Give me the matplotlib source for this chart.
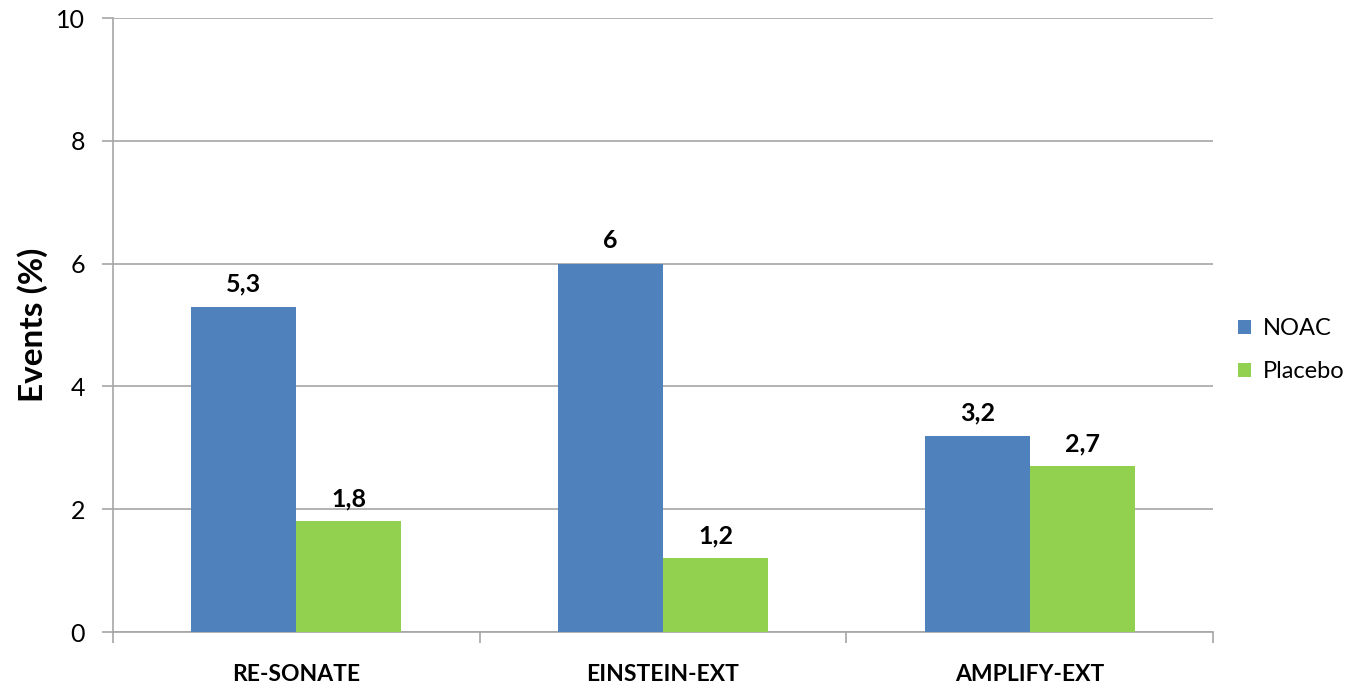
import matplotlib
matplotlib.use("Agg")
import matplotlib.pyplot as plt
import numpy as np

categories = ["RE-SONATE", "EINSTEIN-EXT", "AMPLIFY-EXT"]
noac = [5.3, 6.0, 3.2]
placebo = [1.8, 1.2, 2.7]
noac_labels = ["5,3", "6", "3,2"]
placebo_labels = ["1,8", "1,2", "2,7"]
yticks = [0, 2, 4, 6, 8, 10]

plt.rcParams["font.family"] = ["Lato", "DejaVu Sans"]

fig = plt.figure(figsize=(13.56, 6.88), dpi=100)
ax = fig.add_axes([113 / 1356, 56 / 688, 1100 / 1356, 614 / 688])

x = np.arange(len(categories))
w = 0.286
grid_c = "#A6A6A6"

b1 = ax.bar(x - w / 2, noac, width=w, color="#4F81BD", label="NOAC", zorder=3)
b2 = ax.bar(x + w / 2, placebo, width=w, color="#92D050", label="Placebo", zorder=3)

for bars, labs in ((b1, noac_labels), (b2, placebo_labels)):
    for rect, lab in zip(bars, labs):
        ax.annotate(lab, (rect.get_x() + rect.get_width() / 2, rect.get_height()),
                    xytext=(0, 8), textcoords="offset points",
                    ha="center", va="bottom", fontsize=18, fontweight="bold",
                    color="black")

ax.set_xlim(-0.5, len(categories) - 0.5)
ax.set_ylim(0, 10)
ax.set_yticks(yticks)
ax.set_yticklabels([str(t) for t in yticks], fontsize=18)
ax.yaxis.grid(True, color=grid_c, linewidth=1.2, zorder=0)
ax.set_axisbelow(True)

# category labels centred, tick marks on the group boundaries
ax.set_xticks(x)
ax.set_xticklabels(categories, fontsize=16.5, fontweight="bold")
ax.tick_params(axis="x", length=0, pad=23)
ax.set_xticks(np.arange(len(categories) + 1) - 0.5, minor=True)
ax.tick_params(axis="x", which="minor", length=8, color=grid_c, width=1.2)
ax.tick_params(axis="y", length=8, color=grid_c, width=1.2, pad=12)

for s in ("top", "right"):
    ax.spines[s].set_visible(False)
for s in ("left", "bottom"):
    ax.spines[s].set_color(grid_c)
    ax.spines[s].set_linewidth(1.2)

ax.set_ylabel("Events (%)", fontsize=24, fontweight="bold", labelpad=6)

fig.legend(handles=[b1, b2], labels=["NOAC", "Placebo"],
           loc="center left", bbox_to_anchor=(1238 / 1356, 0.491),
           frameon=False, borderpad=0, borderaxespad=0,
           fontsize=17, handlelength=0.55, handleheight=0.55,
           handletextpad=0.5, labelspacing=0.95)

fig.savefig("out.png", dpi=100)
